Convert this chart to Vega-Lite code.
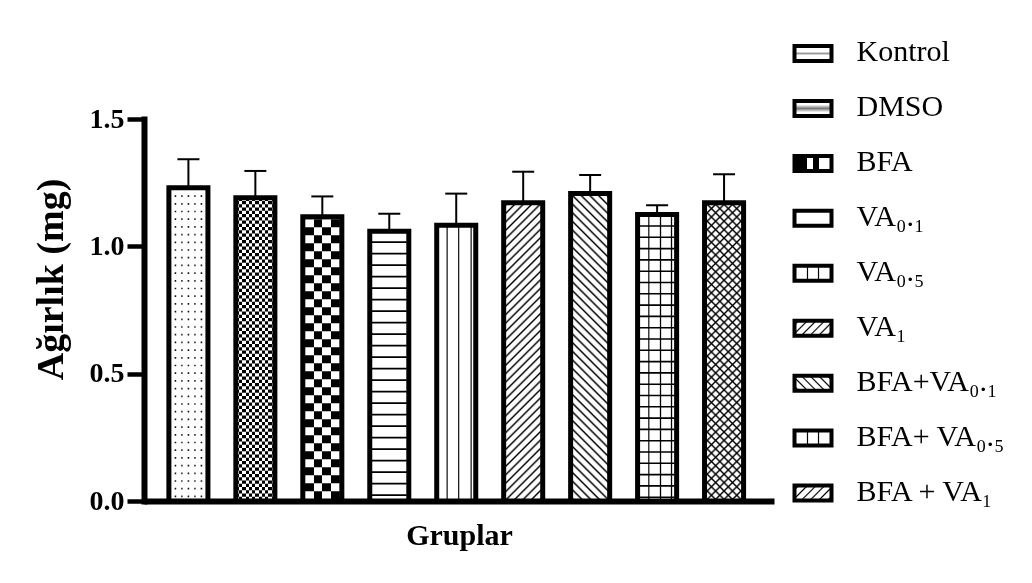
{
"$schema": "https://vega.github.io/schema/vega-lite/v6.json",
"background": "white",
"padding": {"left": 32, "top": 37, "right": 10, "bottom": 8},
"autosize": {"type": "pad"},
"params": [
{"name": "ds", "value": [
{"offset":0.0065,"color":"#fff"},{"offset":0.0125,"color":"#000"},{"offset":0.0185,"color":"#fff"},
{"offset":0.0315,"color":"#fff"},{"offset":0.0375,"color":"#000"},{"offset":0.0435,"color":"#fff"},
{"offset":0.0565,"color":"#fff"},{"offset":0.0625,"color":"#000"},{"offset":0.0685,"color":"#fff"},
{"offset":0.0815,"color":"#fff"},{"offset":0.0875,"color":"#000"},{"offset":0.0935,"color":"#fff"},
{"offset":0.1065,"color":"#fff"},{"offset":0.1125,"color":"#000"},{"offset":0.1185,"color":"#fff"},
{"offset":0.1315,"color":"#fff"},{"offset":0.1375,"color":"#000"},{"offset":0.1435,"color":"#fff"},
{"offset":0.1565,"color":"#fff"},{"offset":0.1625,"color":"#000"},{"offset":0.1685,"color":"#fff"},
{"offset":0.1815,"color":"#fff"},{"offset":0.1875,"color":"#000"},{"offset":0.1935,"color":"#fff"},
{"offset":0.2065,"color":"#fff"},{"offset":0.2125,"color":"#000"},{"offset":0.2185,"color":"#fff"},
{"offset":0.2315,"color":"#fff"},{"offset":0.2375,"color":"#000"},{"offset":0.2435,"color":"#fff"},
{"offset":0.2565,"color":"#fff"},{"offset":0.2625,"color":"#000"},{"offset":0.2685,"color":"#fff"},
{"offset":0.2815,"color":"#fff"},{"offset":0.2875,"color":"#000"},{"offset":0.2935,"color":"#fff"},
{"offset":0.3065,"color":"#fff"},{"offset":0.3125,"color":"#000"},{"offset":0.3185,"color":"#fff"},
{"offset":0.3315,"color":"#fff"},{"offset":0.3375,"color":"#000"},{"offset":0.3435,"color":"#fff"},
{"offset":0.3565,"color":"#fff"},{"offset":0.3625,"color":"#000"},{"offset":0.3685,"color":"#fff"},
{"offset":0.3815,"color":"#fff"},{"offset":0.3875,"color":"#000"},{"offset":0.3935,"color":"#fff"},
{"offset":0.4065,"color":"#fff"},{"offset":0.4125,"color":"#000"},{"offset":0.4185,"color":"#fff"},
{"offset":0.4315,"color":"#fff"},{"offset":0.4375,"color":"#000"},{"offset":0.4435,"color":"#fff"},
{"offset":0.4565,"color":"#fff"},{"offset":0.4625,"color":"#000"},{"offset":0.4685,"color":"#fff"},
{"offset":0.4815,"color":"#fff"},{"offset":0.4875,"color":"#000"},{"offset":0.4935,"color":"#fff"},
{"offset":0.5065,"color":"#fff"},{"offset":0.5125,"color":"#000"},{"offset":0.5185,"color":"#fff"},
{"offset":0.5315,"color":"#fff"},{"offset":0.5375,"color":"#000"},{"offset":0.5435,"color":"#fff"},
{"offset":0.5565,"color":"#fff"},{"offset":0.5625,"color":"#000"},{"offset":0.5685,"color":"#fff"},
{"offset":0.5815,"color":"#fff"},{"offset":0.5875,"color":"#000"},{"offset":0.5935,"color":"#fff"},
{"offset":0.6065,"color":"#fff"},{"offset":0.6125,"color":"#000"},{"offset":0.6185,"color":"#fff"},
{"offset":0.6315,"color":"#fff"},{"offset":0.6375,"color":"#000"},{"offset":0.6435,"color":"#fff"},
{"offset":0.6565,"color":"#fff"},{"offset":0.6625,"color":"#000"},{"offset":0.6685,"color":"#fff"},
{"offset":0.6815,"color":"#fff"},{"offset":0.6875,"color":"#000"},{"offset":0.6935,"color":"#fff"},
{"offset":0.7065,"color":"#fff"},{"offset":0.7125,"color":"#000"},{"offset":0.7185,"color":"#fff"},
{"offset":0.7315,"color":"#fff"},{"offset":0.7375,"color":"#000"},{"offset":0.7435,"color":"#fff"},
{"offset":0.7565,"color":"#fff"},{"offset":0.7625,"color":"#000"},{"offset":0.7685,"color":"#fff"},
{"offset":0.7815,"color":"#fff"},{"offset":0.7875,"color":"#000"},{"offset":0.7935,"color":"#fff"},
{"offset":0.8065,"color":"#fff"},{"offset":0.8125,"color":"#000"},{"offset":0.8185,"color":"#fff"},
{"offset":0.8315,"color":"#fff"},{"offset":0.8375,"color":"#000"},{"offset":0.8435,"color":"#fff"},
{"offset":0.8565,"color":"#fff"},{"offset":0.8625,"color":"#000"},{"offset":0.8685,"color":"#fff"},
{"offset":0.8815,"color":"#fff"},{"offset":0.8875,"color":"#000"},{"offset":0.8935,"color":"#fff"},
{"offset":0.9065,"color":"#fff"},{"offset":0.9125,"color":"#000"},{"offset":0.9185,"color":"#fff"},
{"offset":0.9315,"color":"#fff"},{"offset":0.9375,"color":"#000"},{"offset":0.9435,"color":"#fff"},
{"offset":0.9565,"color":"#fff"},{"offset":0.9625,"color":"#000"},{"offset":0.9685,"color":"#fff"},
{"offset":0.9815,"color":"#fff"},{"offset":0.9875,"color":"#000"},{"offset":0.9935,"color":"#fff"}
]},
{"name": "ls", "value": [
{"offset":0.0523,"color":"#fff"},{"offset":0.0833,"color":"#000"},{"offset":0.1143,"color":"#fff"},
{"offset":0.219,"color":"#fff"},{"offset":0.25,"color":"#000"},{"offset":0.281,"color":"#fff"},
{"offset":0.3857,"color":"#fff"},{"offset":0.4167,"color":"#000"},{"offset":0.4477,"color":"#fff"},
{"offset":0.5523,"color":"#fff"},{"offset":0.5833,"color":"#000"},{"offset":0.6143,"color":"#fff"},
{"offset":0.719,"color":"#fff"},{"offset":0.75,"color":"#000"},{"offset":0.781,"color":"#fff"},
{"offset":0.8857,"color":"#fff"},{"offset":0.9167,"color":"#000"},{"offset":0.9477,"color":"#fff"}
]}
],
"data": {"values": [
{"g":"Kontrol","label":"Kontrol","mean":1.230,"upper":1.342},
{"g":"DMSO","label":"DMSO","mean":1.191,"upper":1.296},
{"g":"BFA","label":"BFA","mean":1.116,"upper":1.196},
{"g":"VA0.1","label":"VA₀.₁","mean":1.059,"upper":1.128},
{"g":"VA0.5","label":"VA₀.₅","mean":1.083,"upper":1.207},
{"g":"VA1","label":"VA₁","mean":1.171,"upper":1.293},
{"g":"BFA+VA0.1","label":"BFA+VA₀.₁","mean":1.207,"upper":1.280},
{"g":"BFA+VA0.5","label":"BFA+ VA₀.₅","mean":1.125,"upper":1.161},
{"g":"BFA+VA1","label":"BFA + VA₁","mean":1.171,"upper":1.283}
]},
"spacing": 18,
"bounds": "flush",
"hconcat": [
{
"width": 630,
"height": 382,
"encoding": {
"x": {"field": "g", "type": "nominal", "sort": null,
"scale": {"paddingInner": 0.417, "paddingOuter": 0.413, "align": 0.45},
"axis": {"title": "Gruplar", "labels": false, "ticks": false, "domainColor": "black", "domainWidth": 6, "titleFont": "Liberation Serif", "titleFontSize": 30, "titleFontWeight": "bold", "titleColor": "black", "titlePadding": 19}}
},
"layer": [
{"mark": {"type": "bar", "strokeWidth": 0},
"encoding": {
"y": {"field": "mean", "type": "quantitative", "title": "Ağırlık (mg)", "scale": {"domain": [0, 1.5], "nice": false, "zero": true},
"axis": {"values": [0, 0.5, 1, 1.5], "format": ".1f", "grid": false, "domainColor": "black", "domainWidth": 6, "domainCap": "square", "tickColor": "black", "tickWidth": 4.5, "tickSize": 17, "labelPadding": 3, "labelFont": "Liberation Serif", "labelFontSize": 28, "labelFontWeight": "bold", "labelColor": "black", "titleFont": "Liberation Serif", "titleFontSize": 38, "titleFontWeight": "bold", "titleColor": "black", "titlePadding": 19, "titleY": 160}},
"fill": {"condition": [
{"test": "datum.g==='Kontrol'", "value": {"gradient":"linear","x1":0,"y1":0,"x2":1,"y2":0,"stops":[{"offset":0.1317,"color":"#fff"},{"offset":0.1667,"color":"#000"},{"offset":0.2017,"color":"#fff"},{"offset":0.2983,"color":"#fff"},{"offset":0.3333,"color":"#000"},{"offset":0.3683,"color":"#fff"},{"offset":0.465,"color":"#fff"},{"offset":0.5,"color":"#000"},{"offset":0.535,"color":"#fff"},{"offset":0.6317,"color":"#fff"},{"offset":0.6667,"color":"#000"},{"offset":0.7017,"color":"#fff"},{"offset":0.7983,"color":"#fff"},{"offset":0.8333,"color":"#000"},{"offset":0.8683,"color":"#fff"}]}},
{"test": "datum.g==='DMSO'", "value": {"gradient":"linear","x1":0,"y1":0,"x2":1,"y2":0,"stops":[{"offset":0,"color":"#000"},{"offset":0.0833,"color":"#000"},{"offset":0.0833,"color":"#fff"},{"offset":0.1667,"color":"#fff"},{"offset":0.1667,"color":"#000"},{"offset":0.25,"color":"#000"},{"offset":0.25,"color":"#fff"},{"offset":0.3333,"color":"#fff"},{"offset":0.3333,"color":"#000"},{"offset":0.4167,"color":"#000"},{"offset":0.4167,"color":"#fff"},{"offset":0.5,"color":"#fff"},{"offset":0.5,"color":"#000"},{"offset":0.5833,"color":"#000"},{"offset":0.5833,"color":"#fff"},{"offset":0.6667,"color":"#fff"},{"offset":0.6667,"color":"#000"},{"offset":0.75,"color":"#000"},{"offset":0.75,"color":"#fff"},{"offset":0.8333,"color":"#fff"},{"offset":0.8333,"color":"#000"},{"offset":0.9167,"color":"#000"},{"offset":0.9167,"color":"#fff"},{"offset":1,"color":"#fff"}]}},
{"test": "datum.g==='BFA'", "value": {"gradient":"linear","x1":0,"y1":0,"x2":1,"y2":0,"stops":[{"offset":0,"color":"#000"},{"offset":0.2821,"color":"#000"},{"offset":0.2821,"color":"#fff"},{"offset":0.5,"color":"#fff"},{"offset":0.5,"color":"#000"},{"offset":0.7179,"color":"#000"},{"offset":0.7179,"color":"#fff"},{"offset":1,"color":"#fff"}]}},
{"test": "datum.g==='VA0.5'", "value": {"gradient":"linear","x1":0,"y1":0,"x2":1,"y2":0,"stops":[{"offset":0.237,"color":"#fff"},{"offset":0.267,"color":"#000"},{"offset":0.297,"color":"#fff"},{"offset":0.532,"color":"#fff"},{"offset":0.562,"color":"#000"},{"offset":0.592,"color":"#fff"},{"offset":0.852,"color":"#fff"},{"offset":0.882,"color":"#000"},{"offset":0.912,"color":"#fff"}]}},
{"test": "datum.g==='VA1'", "value": {"expr": "{gradient:'linear',x1:0,y1:0,x2:0.1454,y2:1.1118,stops:ds}"}},
{"test": "datum.g==='BFA+VA0.1'", "value": {"expr": "{gradient:'linear',x1:0,y1:1,x2:0.1407,y2:-0.109,stops:ds}"}},
{"test": "datum.g==='BFA+VA0.5'", "value": {"gradient":"linear","x1":0,"y1":0,"x2":1,"y2":0,"stops":[{"offset":0.257,"color":"#fff"},{"offset":0.287,"color":"#000"},{"offset":0.317,"color":"#fff"},{"offset":0.557,"color":"#fff"},{"offset":0.587,"color":"#000"},{"offset":0.617,"color":"#fff"},{"offset":0.839,"color":"#fff"},{"offset":0.869,"color":"#000"},{"offset":0.899,"color":"#fff"}]}},
{"test": "datum.g==='BFA+VA1'", "value": {"expr": "{gradient:'linear',x1:0,y1:0,x2:0.1454,y2:1.1118,stops:ds}"}}
], "value": "white"}
}},
{"transform": [{"filter": "datum.g==='Kontrol'"}],
"mark": {"type": "rule", "color": "white", "stroke": "white", "strokeWidth": 35, "strokeCap": "butt", "strokeDash": [6, 1.7], "strokeDashOffset": -1.5},
"encoding": {"y": {"field": "mean", "type": "quantitative", "title": "Ağırlık (mg)"}, "y2": {"datum": 0}}},
{"transform": [{"filter": "datum.g==='DMSO'"}],
"mark": {"type": "rule", "color": "white", "stroke": "white", "strokeWidth": 35, "strokeCap": "butt", "strokeDash": [3.25, 3.25], "blend": "difference"},
"encoding": {"y": {"field": "mean", "type": "quantitative", "title": "Ağırlık (mg)"}, "y2": {"datum": 0}}},
{"transform": [{"filter": "datum.g==='BFA'"}],
"mark": {"type": "rule", "color": "white", "stroke": "white", "strokeWidth": 35, "strokeCap": "butt", "strokeDash": [8, 8], "strokeDashOffset": -2.5, "blend": "difference"},
"encoding": {"y": {"field": "mean", "type": "quantitative", "title": "Ağırlık (mg)"}, "y2": {"datum": 0}}},
{"transform": [{"filter": "datum.g==='VA0.1'"}],
"mark": {"type": "rule", "color": "black", "stroke": "black", "strokeWidth": 35, "strokeCap": "butt", "strokeDash": [1.6, 9.9], "strokeDashOffset": 1.5},
"encoding": {"y": {"field": "mean", "type": "quantitative", "title": "Ağırlık (mg)"}, "y2": {"datum": 0}}},
{"transform": [{"filter": "datum.g==='BFA+VA0.5'"}],
"mark": {"type": "rule", "color": "black", "stroke": "black", "strokeWidth": 35, "strokeCap": "butt", "strokeDash": [1.6, 9.7], "strokeDashOffset": 0.6},
"encoding": {"y": {"field": "mean", "type": "quantitative", "title": "Ağırlık (mg)"}, "y2": {"datum": 0}}},
{"transform": [{"filter": "datum.g==='BFA+VA1'"}],
"mark": {"type": "bar", "strokeWidth": 0, "blend": "multiply", "fill": {"expr": "{gradient:'linear',x1:0,y1:1,x2:0.1454,y2:-0.1118,stops:ds}"}},
"encoding": {"y": {"field": "mean", "type": "quantitative", "title": "Ağırlık (mg)"}}},
{"mark": {"type": "bar", "fill": "transparent", "stroke": "black", "strokeWidth": 5, "strokeJoin": "miter"},
"encoding": {"y": {"field": "mean", "type": "quantitative", "title": "Ağırlık (mg)"}}},
{"mark": {"type": "rule", "color": "black", "strokeWidth": 2},
"encoding": {"y": {"field": "mean", "type": "quantitative", "title": "Ağırlık (mg)"}, "y2": {"field": "upper"}}},
{"mark": {"type": "tick", "color": "black", "size": 22, "thickness": 2, "opacity": 1},
"encoding": {"y": {"field": "upper", "type": "quantitative", "title": "Ağırlık (mg)"}}}
]
},
{
"width": 42,
"height": 382,
"encoding": {"y": {"field": "g", "type": "nominal", "sort": null, "axis": null, "scale": {"type": "point", "range": [-65.5, 374], "padding": 0}}},
"layer": [
{"mark": {"type": "point", "shape": "M-1,-0.4054L1,-0.4054L1,0.4054L-1,0.4054Z", "size": 1369, "stroke": "black", "strokeWidth": 4, "opacity": 1, "filled": true, "strokeJoin": "miter"},
"encoding": {"fill": {"condition": [
{"test": "datum.g==='Kontrol'", "value": {"gradient":"linear","x1":0,"y1":0,"x2":0,"y2":1,"stops":[{"offset":0.38,"color":"#fff"},{"offset":0.5,"color":"#999"},{"offset":0.62,"color":"#fff"}]}},
{"test": "datum.g==='DMSO'", "value": {"gradient":"linear","x1":0,"y1":0,"x2":0,"y2":1,"stops":[{"offset":0.25,"color":"#fff"},{"offset":0.5,"color":"#777"},{"offset":0.75,"color":"#fff"}]}},
{"test": "datum.g==='BFA'", "value": {"gradient":"linear","x1":0,"y1":0,"x2":1,"y2":0,"stops":[{"offset":0,"color":"#000"},{"offset":0.33,"color":"#000"},{"offset":0.33,"color":"#fff"},{"offset":0.5,"color":"#fff"},{"offset":0.5,"color":"#000"},{"offset":0.67,"color":"#000"},{"offset":0.67,"color":"#fff"},{"offset":1,"color":"#fff"}]}},
{"test": "datum.g==='VA0.5' || datum.g==='BFA+VA0.5'", "value": {"gradient":"linear","x1":0,"y1":0,"x2":1,"y2":0,"stops":[{"offset":0.321,"color":"#fff"},{"offset":0.351,"color":"#000"},{"offset":0.381,"color":"#fff"},{"offset":0.619,"color":"#fff"},{"offset":0.649,"color":"#000"},{"offset":0.679,"color":"#fff"}]}},
{"test": "datum.g==='VA1' || datum.g==='BFA+VA1'", "value": {"expr": "{gradient:'linear',x1:0,y1:0,x2:1.207,y2:0.4893,stops:ls}"}},
{"test": "datum.g==='BFA+VA0.1'", "value": {"expr": "{gradient:'linear',x1:0,y1:1,x2:1.207,y2:0.5107,stops:ls}"}}
], "value": "white"}}},
{"mark": {"type": "text", "align": "left", "baseline": "alphabetic", "dx": 43.5, "dy": 7.5, "font": "Liberation Serif", "fontSize": 30, "color": "black"},
"encoding": {"text": {"field": "label"}}}
]
}
],
"config": {"view": {"stroke": null}, "font": "Liberation Serif"}
}
